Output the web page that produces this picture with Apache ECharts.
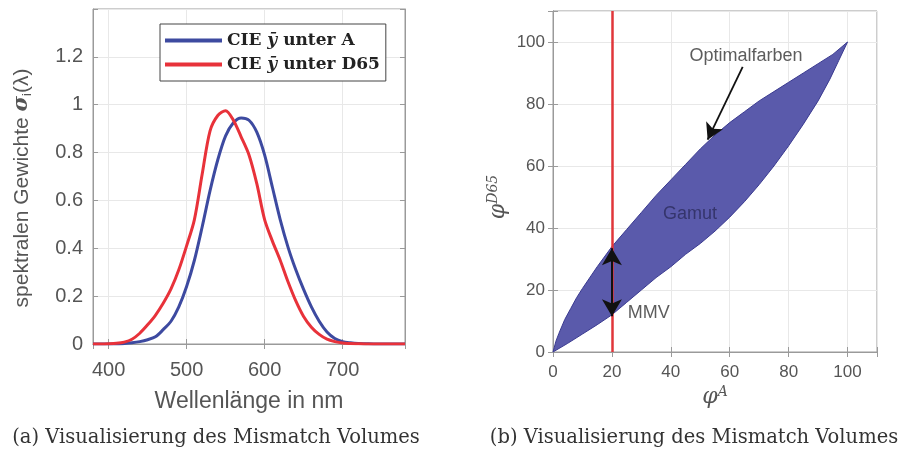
<!DOCTYPE html>
<html>
<head>
<meta charset="utf-8">
<script src="https://cdn.jsdelivr.net/npm/echarts@6/dist/echarts.min.js"></script>
<style>html,body{margin:0;padding:0;background:#fff;}#c{width:909px;height:457px;}</style>
</head>
<body>
<div id="c"></div>
<script>
// ---- Left panel data: spectral weights ----
const wavelengths = [380,390,400,410,420,430,440,450,460,470,480,490,500,510,520,530,540,550,560,570,580,590,600,610,620,630,640,650,660,670,680,690,700,710,720,730,740,750,760,770,780];
const ySubA   = [0,0,0,0,0.002,0.005,0.01,0.018,0.03,0.06,0.095,0.155,0.24,0.35,0.49,0.64,0.77,0.87,0.925,0.945,0.935,0.885,0.79,0.655,0.52,0.405,0.31,0.228,0.155,0.095,0.05,0.023,0.01,0.005,0.002,0.001,0,0,0,0,0];
const ySubD65 = [0,0,0.001,0.003,0.008,0.02,0.045,0.08,0.12,0.17,0.23,0.31,0.41,0.52,0.71,0.89,0.955,0.975,0.935,0.865,0.79,0.67,0.52,0.43,0.35,0.26,0.18,0.115,0.07,0.04,0.02,0.01,0.004,0.002,0.001,0,0,0,0,0,0];
const legendNames = ['CIE ȳ unter A','CIE ȳ unter D65'];

// ---- Right panel data: gamut ----
const gamutUpperX = [0,1,2,4,6,8,10,15,20,25,30,35,40,45,50,55,60,65,70,75,80,85,90,95,100];
const gamutUpperY = [0,3.5,6,10.5,14,17.5,20.5,27.5,34,39.5,45,50.5,55.5,60.5,65.5,70,74,77.5,81,84,87,90,93,96,100];
const gamutLowerX = [100,97,94,90,85,80,75,70,65,60,55,50,45,40,35,30,25,20,15,10,5,0];
const gamutLowerY = [100,94,88,81,73.5,66.5,60,54,48.5,43.5,39,35,31.5,27.5,24,20,16,12,8.8,5.8,2.8,0];
const mmvLineX = 20;
const optimalArrow = [[64.4,92],[52.5,68.5]];
const mmvArrow = [[20,33.5],[20,11.5]];
const annotations = [
  {name:'Optimalfarben', value:[65.5,95.5]},
  {name:'Gamut', value:[46.5,44.5]},
  {name:'MMV', value:[32.5,12.5]}
];

const chart = echarts.init(document.getElementById('c'), null, {renderer:'canvas'});

const tickColor = '#555';
const boxColor = '#9a9a9a';
const gridLineColor = '#e8e8e8';

function zip(xs, ys){ return xs.map((x,i)=>[x, ys[i]]); }

function mirrorAxis(base, pos){
  return Object.assign({}, base, {position:pos, axisLabel:{show:false}, splitLine:{show:false},
    axisLine:{show:true, lineStyle:{color:boxColor}}, axisTick:{inside:true, length:5, lineStyle:{color:boxColor}}});
}

const xLeft = {gridIndex:0, type:'value', min:380, max:780, splitNumber:4,
     axisLine:{show:true, lineStyle:{color:boxColor}}, axisTick:{inside:true, length:5, lineStyle:{color:boxColor}},
     axisLabel:{color:tickColor, fontSize:20, fontFamily:'Liberation Sans', margin:16,
       formatter: v => (v % 100 === 0 ? String(v) : '')},
     splitLine:{show:true, lineStyle:{color:gridLineColor}}};
const xRight = {gridIndex:1, type:'value', min:0, max:110, interval:20,
     axisLine:{show:true, lineStyle:{color:boxColor}}, axisTick:{inside:true, length:5, lineStyle:{color:boxColor}},
     axisLabel:{color:tickColor, fontSize:17, fontFamily:'Liberation Sans', margin:12,
       formatter: v => (v <= 100 ? String(v) : '')},
     splitLine:{show:true, lineStyle:{color:gridLineColor}}};
const yLeft = {gridIndex:0, type:'value', min:0, max:1.4, interval:0.2,
     axisLine:{show:true, lineStyle:{color:boxColor}}, axisTick:{inside:true, length:5, lineStyle:{color:boxColor}},
     axisLabel:{color:tickColor, fontSize:20, fontFamily:'Liberation Sans', margin:10,
       formatter: v => (v > 1.3 ? '' : String(Math.round(v*10)/10))},
     splitLine:{show:true, lineStyle:{color:gridLineColor}}};
const yRight = {gridIndex:1, type:'value', min:0, max:110, interval:20,
     axisLine:{show:true, lineStyle:{color:boxColor}}, axisTick:{inside:true, length:5, lineStyle:{color:boxColor}},
     axisLabel:{color:tickColor, fontSize:17, fontFamily:'Liberation Sans', margin:8,
       formatter: v => (v <= 100 ? String(v) : '')},
     splitLine:{show:true, lineStyle:{color:gridLineColor}}};

const option = {
  animation: false,
  backgroundColor: '#fff',
  grid: [
    {left:93, top:9, width:312, height:335, show:true, borderColor:boxColor, borderWidth:1},
    {left:553, top:11, width:324, height:341, show:true, borderColor:boxColor, borderWidth:1}
  ],
  legend: {
    left: 160, top: 24,
    orient: 'vertical',
    data: legendNames,
    borderColor: '#444', borderWidth: 1,
    backgroundColor: '#fff',
    padding: [8, 6, 8, 5],
    itemGap: 7,
    itemWidth: 57, itemHeight: 4,
    icon: 'rect',
    textStyle: {fontFamily:'DejaVu Serif', fontWeight:'bold', fontSize:17, color:'#222'}
  },
  xAxis: [xLeft, xRight, mirrorAxis(xLeft,'top'), mirrorAxis(xRight,'top')],
  yAxis: [yLeft, yRight, mirrorAxis(yLeft,'right'), mirrorAxis(yRight,'right')],
  series: [
    {name:legendNames[0], type:'line', xAxisIndex:0, yAxisIndex:0, data: zip(wavelengths, ySubA),
     smooth:0.3, showSymbol:false, lineStyle:{color:'#3d4aa0', width:3}, itemStyle:{color:'#3d4aa0'}, z:3},
    {name:legendNames[1], type:'line', xAxisIndex:0, yAxisIndex:0, data: zip(wavelengths, ySubD65),
     smooth:0.3, showSymbol:false, lineStyle:{color:'#e8323a', width:3}, itemStyle:{color:'#e8323a'}, z:4},
    {type:'custom', xAxisIndex:1, yAxisIndex:1, data:[[0,0]], z:2,
     renderItem: function(params, api){
       const pts = zip(gamutUpperX, gamutUpperY).concat(zip(gamutLowerX, gamutLowerY)).map(p => api.coord(p));
       return {type:'polygon', shape:{points:pts},
               style:{fill:'#5a5aab', stroke:'#3a3a90', lineWidth:1}};
     }},
    {type:'line', xAxisIndex:1, yAxisIndex:1, data:[], z:5,
     markLine:{silent:true, symbol:['none','none'], label:{show:false},
       lineStyle:{color:'#e0363a', width:2.5, type:'solid'},
       data:[{xAxis: mmvLineX}]}},
    {type:'line', xAxisIndex:1, yAxisIndex:1, data:[], z:6,
     markLine:{silent:true, symbol:['none','arrow'], symbolSize:[14,16], label:{show:false},
       lineStyle:{color:'#111', width:1.8, type:'solid'},
       data:[[{coord:optimalArrow[0]},{coord:optimalArrow[1]}]]}},
    {type:'line', xAxisIndex:1, yAxisIndex:1, data:[], z:6,
     markLine:{silent:true, symbol:['arrow','arrow'], symbolSize:[15,17], label:{show:false},
       lineStyle:{color:'#111', width:2, type:'solid'},
       data:[[{coord:mmvArrow[0]},{coord:mmvArrow[1]}]]}},
    {type:'scatter', xAxisIndex:1, yAxisIndex:1, symbolSize:0, z:7, silent:true,
     data: annotations,
     label:{show:true, position:'inside', fontFamily:'Liberation Sans', fontSize:18,
       formatter: p => (p.name === 'Gamut' ? '{g|' + p.name + '}' : p.name),
       color:'#333', rich:{g:{color:'#2c2c5c', fontSize:18, fontFamily:'Liberation Sans'}}}}
  ],
  graphic: [
    {type:'text', x:249, y:402, style:{text:'Wellenlänge in nm', font:'23px "Liberation Sans"', fill:'#555', align:'center', verticalAlign:'middle'}},
    {type:'text', x:22, y:188, rotation:Math.PI/2,
     style:{text:'{n|spektralen Gewichte }{s|σ}{sub|i}{n|(λ)}', align:'center', verticalAlign:'middle',
       rich:{n:{font:'21px "Liberation Sans"', fill:'#555'}, s:{font:'italic bold 21px "DejaVu Serif"', fill:'#555'},
             sub:{font:'13px "Liberation Sans"', fill:'#555', verticalAlign:'bottom', padding:[10,0,0,0]}}}},
    {type:'text', x:715, y:397,
     style:{text:'{s|φ}{sup|A}', align:'center', verticalAlign:'middle',
       rich:{s:{font:'italic 22px "DejaVu Serif"', fill:'#555'}, sup:{font:'italic 14px "DejaVu Serif"', fill:'#555', verticalAlign:'top', padding:[0,0,10,0]}}}},
    {type:'text', x:498, y:197, rotation:Math.PI/2,
     style:{text:'{s|φ}{sup|D65}', align:'center', verticalAlign:'middle',
       rich:{s:{font:'italic 22px "DejaVu Serif"', fill:'#555'}, sup:{font:'italic 14px "DejaVu Serif"', fill:'#555', verticalAlign:'top', padding:[0,0,10,0]}}}},
    {type:'text', x:216, y:438, style:{text:'(a) Visualisierung des Mismatch Volumes', font:'19.5px "DejaVu Serif"', fill:'#333', align:'center', verticalAlign:'middle'}},
    {type:'text', x:694, y:438, style:{text:'(b) Visualisierung des Mismatch Volumes', font:'19.5px "DejaVu Serif"', fill:'#333', align:'center', verticalAlign:'middle'}}
  ]
};
option.legend.formatter = function(name){
  const parts = name.split('ȳ');
  return '{b|' + parts[0] + '}{i|ȳ}{b|' + parts[1] + '}';
};
option.legend.textStyle.rich = {
  b:{fontFamily:'DejaVu Serif', fontWeight:'bold', fontSize:17, color:'#222'},
  i:{fontFamily:'DejaVu Serif', fontStyle:'italic', fontWeight:'bold', fontSize:17, color:'#222'}
};
chart.setOption(option);
</script>
</body>
</html>
